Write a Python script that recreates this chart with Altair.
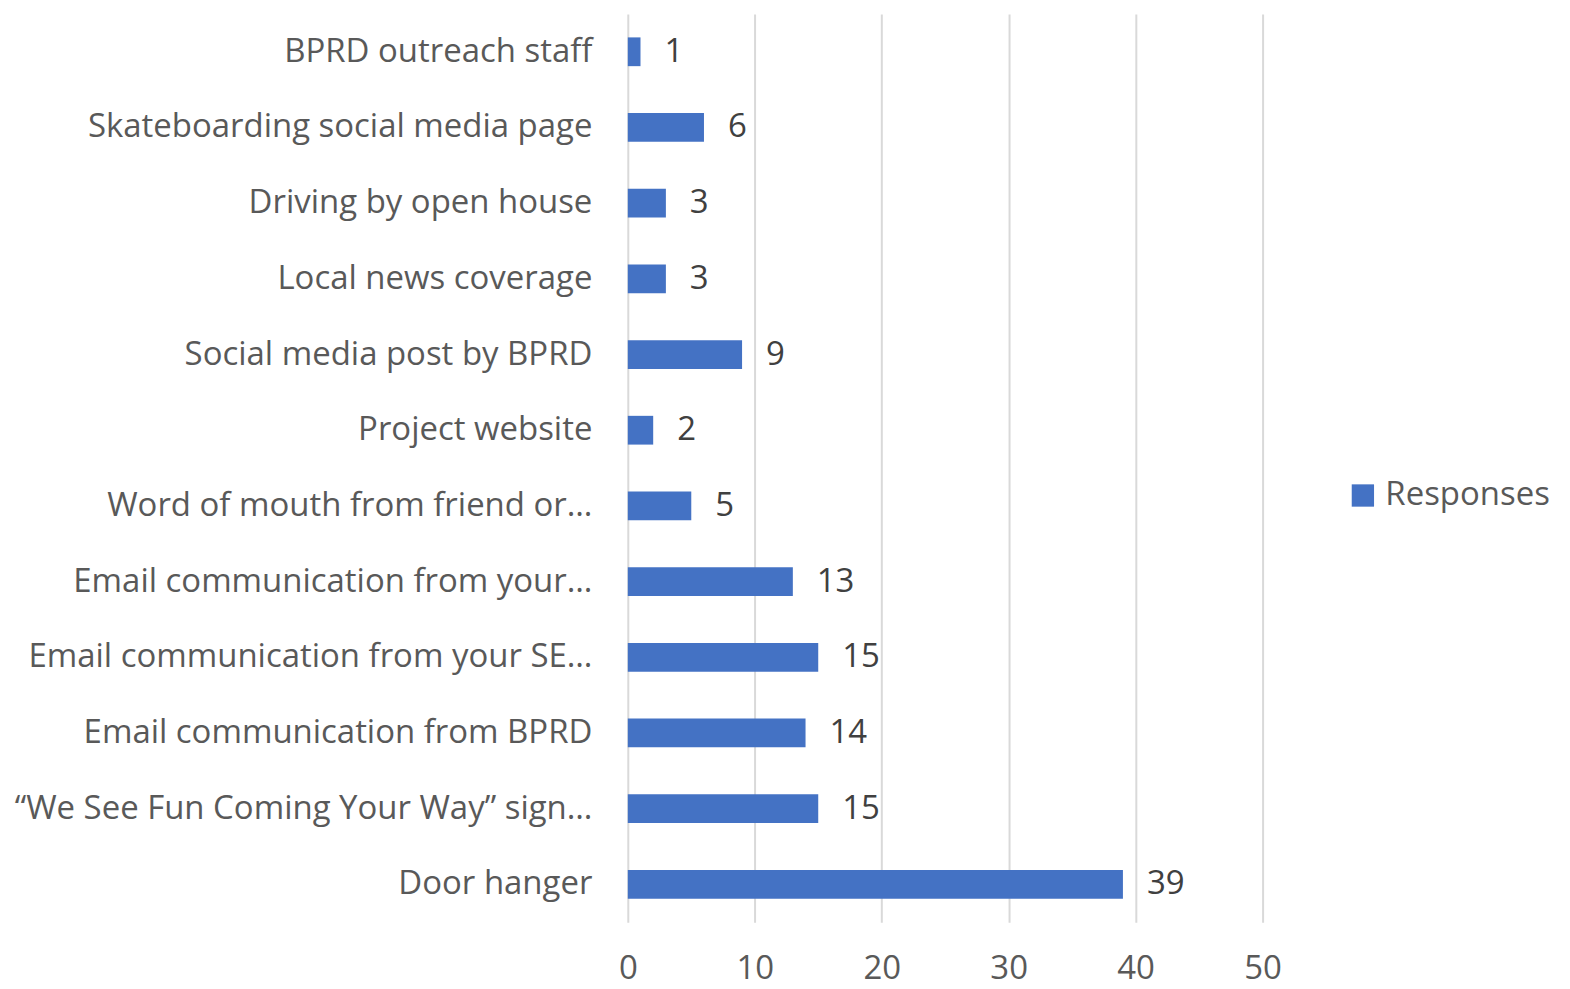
import altair as alt
import pandas as pd

categories = [
    "BPRD outreach staff",
    "Skateboarding social media page",
    "Driving by open house",
    "Local news coverage",
    "Social media post by BPRD",
    "Project website",
    "Word of mouth from friend or…",
    "Email communication from your…",
    "Email communication from your SE…",
    "Email communication from  BPRD",
    "“We See Fun Coming Your Way” sign…",
    "Door hanger",
]
responses = [1, 6, 3, 3, 9, 2, 5, 13, 15, 14, 15, 39]
x_ticks = [0, 10, 20, 30, 40, 50]

df = pd.DataFrame({"Category": categories, "Responses": responses, "Series": ["Responses"] * len(categories)})

FONT = "Open Sans"
TXT = "#595959"
FS = 33

y_enc = alt.Y(
    "Category:N",
    sort=categories,
    title=None,
    scale=alt.Scale(paddingInner=0.62, paddingOuter=0.31),
    axis=alt.Axis(
        labelFontSize=FS,
        labelColor=TXT,
        labelFont=FONT,
        labelPadding=36,
        labelLimit=700,
        ticks=False,
        domain=False,
    ),
)

bars = alt.Chart(df).mark_bar(color="#4472C4").encode(
    x=alt.X(
        "Responses:Q",
        title=None,
        scale=alt.Scale(domain=[0, 50], nice=False),
        axis=alt.Axis(
            values=x_ticks,
            labelFontSize=FS,
            labelColor=TXT,
            labelFont=FONT,
            labelPadding=30,
            labelFlush=False,
            ticks=False,
            domain=False,
            grid=True,
            gridColor="#d9d9d9",
            gridWidth=2,
        ),
    ),
    y=y_enc,
    color=alt.Color(
        "Series:N",
        scale=alt.Scale(range=["#4472C4"]),
        legend=alt.Legend(
            title=None,
            orient="none",
            legendX=720,
            legendY=466,
            symbolType="square",
            symbolSize=500,
            symbolStrokeWidth=0,
            labelFontSize=FS,
            labelFont=FONT,
            labelColor=TXT,
            labelOffset=6,
            labelLimit=400,
        ),
    ),
)

labels = alt.Chart(df).mark_text(
    align="left", baseline="middle", dx=24, fontSize=FS, font=FONT, color="#404040"
).encode(
    x="Responses:Q",
    y=alt.Y("Category:N", sort=categories),
    text="Responses:Q",
)

chart = (
    (bars + labels)
    .properties(
        width=636,
        height=910,
        autosize=alt.AutoSizeParams(type="none"),
        padding={"left": 621, "top": 5, "right": 300, "bottom": 66},
    )
    .configure_view(stroke=None)
)

chart.save("out.html", embed_options={"renderer": "svg", "actions": False})
